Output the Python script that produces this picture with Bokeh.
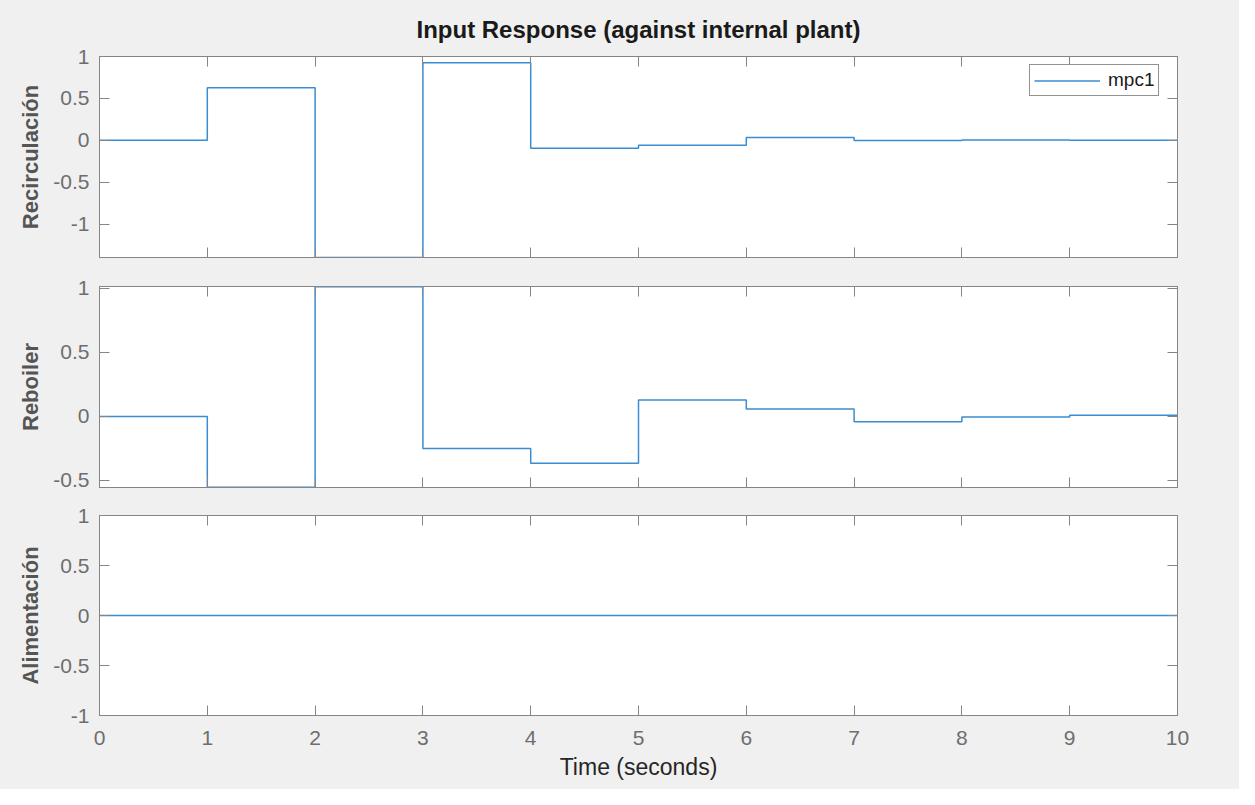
from bokeh.plotting import figure
from bokeh.models import Range1d, LinearAxis, FixedTicker, Legend, LegendItem, CustomLabelingPolicy
from bokeh.layouts import column
from bokeh.embed import file_html
from bokeh.resources import INLINE

# ---- data -------------------------------------------------------------
time_s = [0, 1, 2, 3, 4, 5, 6, 7, 8, 9, 10]
recirculacion = [0.0, 0.627, -1.40, 0.925, -0.095, -0.06, 0.032, -0.004, 0.002, 0.0]
reboiler = [0.0, -0.553, 1.013, -0.25, -0.365, 0.128, 0.058, -0.041, -0.004, 0.01]
alimentacion = [0.0, 0.0, 0.0, 0.0, 0.0, 0.0, 0.0, 0.0, 0.0, 0.0]

x_ticks = [0, 1, 2, 3, 4, 5, 6, 7, 8, 9, 10]
y_ticks_rec = [-1, -0.5, 0, 0.5, 1]
y_ticks_reb = [-0.5, 0, 0.5, 1]
y_ticks_ali = [-1, -0.5, 0, 0.5, 1]
y_tick_text = {-1: "-1", -0.5: "-0.5", 0: "0", 0.5: "0.5", 1: "1"}

title_text = "Input Response (against internal plant)"
x_label = "Time (seconds)"
series_name = "mpc1"

# ---- style ------------------------------------------------------------
FONT = "Liberation Sans"
BG = "#f0f0f0"
AX = "#858585"
TICK_TXT = "#6e6e6e"
LBL_TXT = "#555555"
LINE = "#3a8dd0"
W = 1239

NO_LABELS = """
if (typeof indices.clear === "function") { indices.clear() }
else { for (const i of [...indices]) indices.unset(i) }
return indices
"""


def tick_only_axis(axis):
    axis.major_label_text_font_size = "0px"
    axis.major_label_standoff = 0
    axis.major_label_policy = CustomLabelingPolicy(code=NO_LABELS)


def make_panel(h, top, bottom, yr, yticks, ylabel, vals, show_x_labels):
    p = figure(width=W, height=h, x_range=Range1d(0, 10), y_range=Range1d(*yr),
               output_backend="svg", toolbar_location=None,
               min_border_left=99, min_border_right=62,
               min_border_top=top, min_border_bottom=bottom,
               background_fill_color="white", border_fill_color=BG,
               outline_line_color=AX, outline_line_width=1)
    p.grid.visible = False

    # left axis
    ya = p.yaxis[0]
    ya.ticker = FixedTicker(ticks=yticks)
    ya.major_label_overrides = {k: v for k, v in y_tick_text.items() if k in yticks}
    ya.minor_tick_line_color = None
    ya.major_tick_in = 10
    ya.major_tick_out = 0
    ya.major_tick_line_color = AX
    ya.axis_line_color = AX
    ya.major_label_standoff = 10
    ya.major_label_text_font = FONT
    ya.major_label_text_font_size = "21px"
    ya.major_label_text_color = TICK_TXT
    ya.axis_label = ylabel
    ya.axis_label_text_font = FONT
    ya.axis_label_text_font_size = "22px"
    ya.axis_label_text_font_style = "bold"
    ya.axis_label_text_color = LBL_TXT
    ya.axis_label_standoff = 7

    # bottom axis
    xa = p.xaxis[0]
    xa.ticker = FixedTicker(ticks=x_ticks)
    xa.minor_tick_line_color = None
    xa.major_tick_in = 10
    xa.major_tick_out = 0
    xa.major_tick_line_color = AX
    xa.axis_line_color = AX
    xa.major_label_text_font = FONT
    if show_x_labels:
        xa.major_label_standoff = 15
        xa.major_label_text_font_size = "21px"
        xa.major_label_text_color = TICK_TXT
        xa.axis_label = x_label
        xa.axis_label_text_font = FONT
        xa.axis_label_text_font_size = "23px"
        xa.axis_label_text_font_style = "normal"
        xa.axis_label_text_color = "#262626"
        xa.axis_label_standoff = 6
    else:
        tick_only_axis(xa)

    # mirrored ticks (box on)
    ta = LinearAxis(ticker=FixedTicker(ticks=x_ticks), major_tick_in=10, major_tick_out=0,
                    major_tick_line_color=AX, axis_line_color=AX, minor_tick_line_color=None)
    ra = LinearAxis(ticker=FixedTicker(ticks=yticks), major_tick_in=10, major_tick_out=0,
                    major_tick_line_color=AX, axis_line_color=AX, minor_tick_line_color=None)
    tick_only_axis(ta)
    tick_only_axis(ra)
    p.add_layout(ta, "above")
    p.add_layout(ra, "right")

    r = p.step(time_s, vals + [vals[-1]], mode="after", line_color=LINE, line_width=1.5)
    return p, r


p1, r1 = make_panel(271, 56, 14, (-1.40, 1.0), y_ticks_rec, "Recirculación", recirculacion, False)
p2, r2 = make_panel(230, 15, 14, (-0.555, 1.015), y_ticks_reb, "Reboiler", reboiler, False)
p3, r3 = make_panel(288, 14, 74, (-1.0, 1.0), y_ticks_ali, "Alimentación", alimentacion, True)

p1.title.text = title_text
p1.title.align = "center"
p1.title.text_font = FONT
p1.title.text_font_size = "24px"
p1.title.text_font_style = "bold"
p1.title.text_color = "#1a1a1a"
p1.title.standoff = 27

legend = Legend(items=[LegendItem(label=series_name, renderers=[r1])],
                location=(930, 161), margin=0, padding=4, spacing=0,
                glyph_width=66, glyph_height=19, label_height=19, label_standoff=8,
                label_text_font=FONT, label_text_font_size="19px", label_text_color="#1a1a1a",
                border_line_color="#262626", border_line_width=1,
                background_fill_color="white", background_fill_alpha=1)
p1.add_layout(legend)

layout = column(p1, p2, p3, spacing=0)
layout.styles = {"background-color": BG}

open("out.html", "w").write(file_html(layout, INLINE))
